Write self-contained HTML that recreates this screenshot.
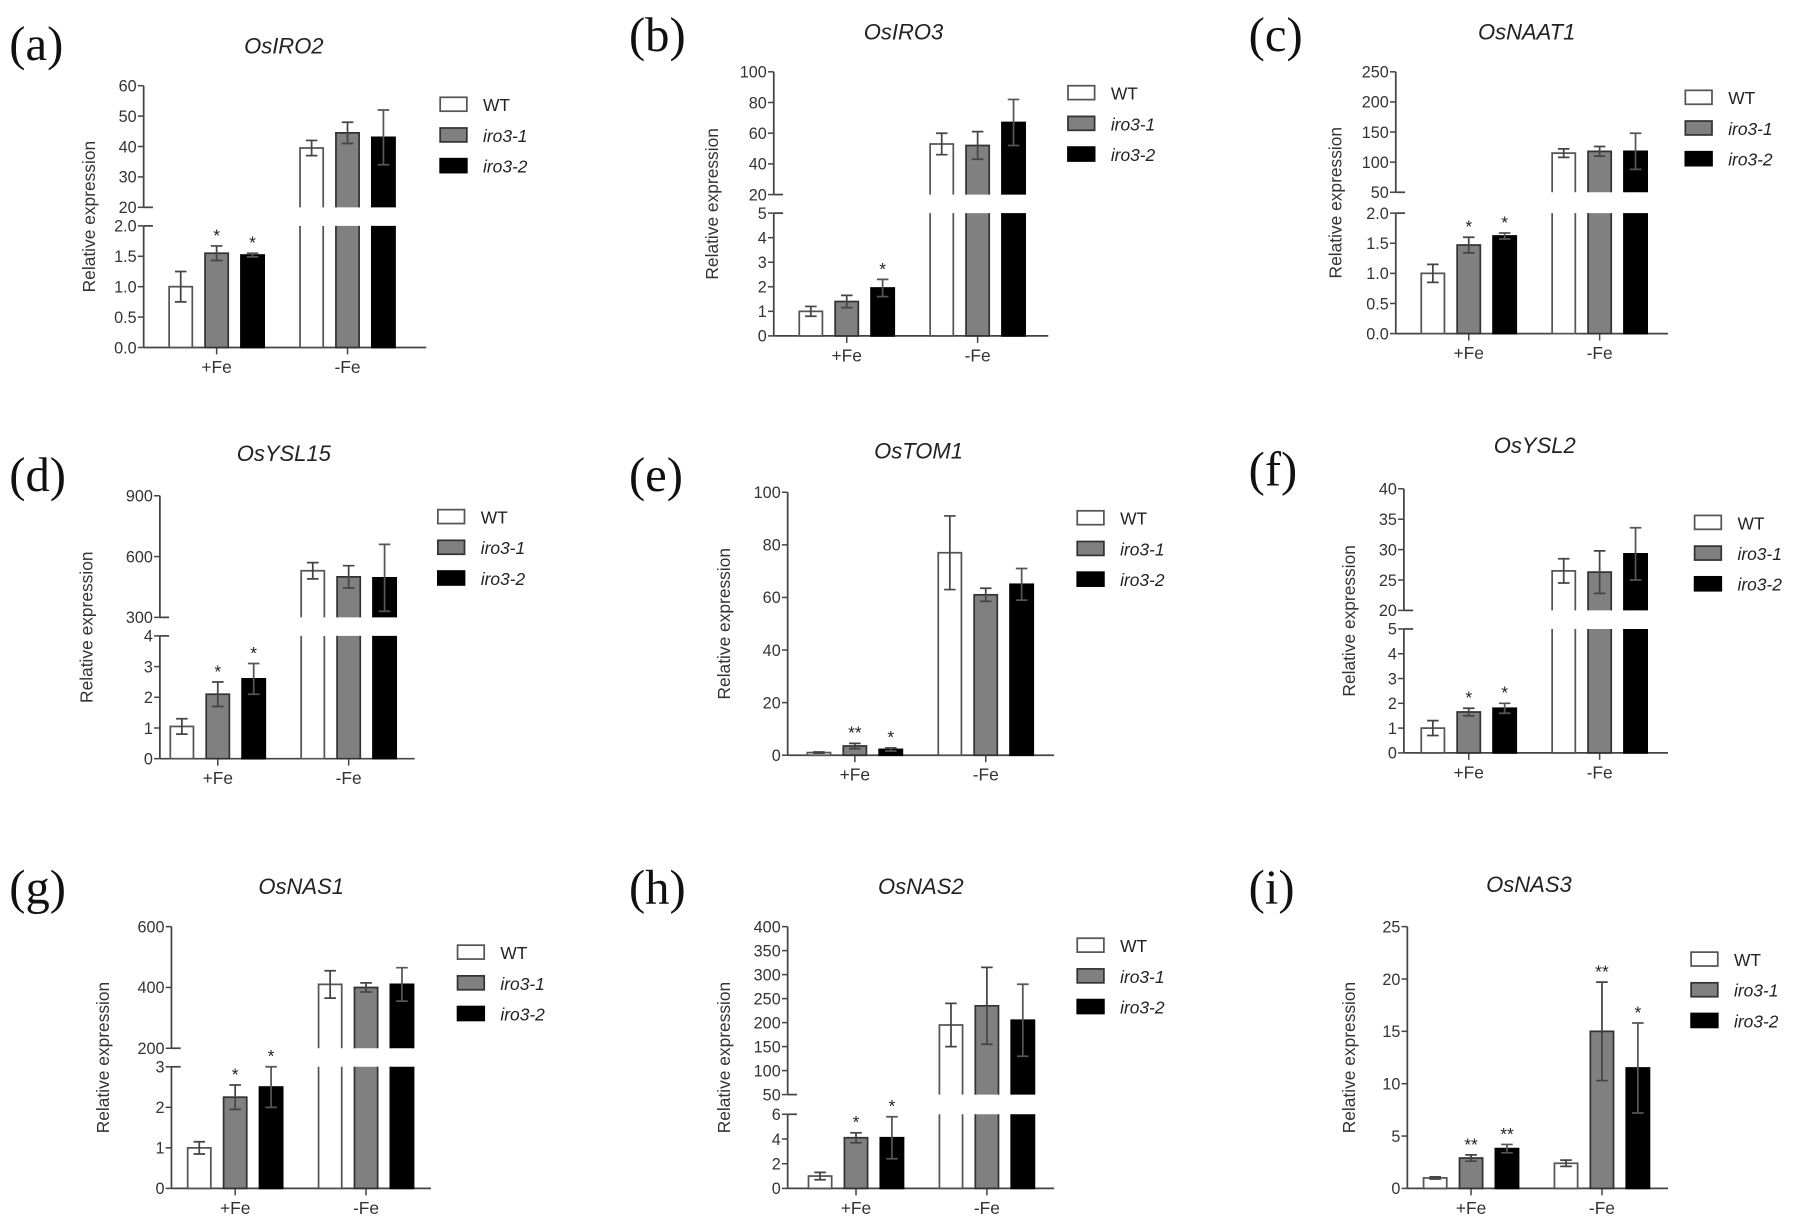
<!DOCTYPE html>
<html><head><meta charset="utf-8">
<style>
html,body{margin:0;padding:0;background:#fff;}
svg{display:block;}
text{font-family:"Liberation Sans",sans-serif;}
</style></head>
<body>
<svg id="fig" width="1807" height="1222" viewBox="0 0 1560 1055" xmlns="http://www.w3.org/2000/svg"></svg>
<script>
const categories = ['+Fe', '-Fe'];
const seriesNames = ['WT', 'iro3-1', 'iro3-2'];
const panelTitles = ['OsIRO2','OsIRO3','OsNAAT1','OsYSL15','OsTOM1','OsYSL2','OsNAS1','OsNAS2','OsNAS3'];
const panelLetters = ['(a)','(b)','(c)','(d)','(e)','(f)','(g)','(h)','(i)'];

// means [category][series]
const meansA = [[1.0,1.55,1.52],[39.5,44.5,43]];
const errA   = [[0.25,0.12,0.03],[2.5,3.5,9]];
const starsA = [['','*','*'],['','','']];
const meansB = [[1.0,1.4,1.95],[53,52,67]];
const errB   = [[0.2,0.25,0.35],[7,9,15]];
const starsB = [['','','*'],['','','']];
const meansC = [[1.0,1.47,1.62],[115,118,118]];
const errC   = [[0.15,0.13,0.05],[7,8,30]];
const starsC = [['','*','*'],['','','']];
const meansD = [[1.05,2.1,2.6],[530,500,495]];
const errD   = [[0.25,0.4,0.5],[40,55,165]];
const starsD = [['','*','*'],['','','']];
const meansE = [[1.0,3.5,2.2],[77,61,65]];
const errE   = [[0.2,1.0,0.6],[14,2.5,6]];
const starsE = [['','**','*'],['','','']];
const meansF = [[1.0,1.65,1.8],[26.5,26.3,29.3]];
const errF   = [[0.3,0.15,0.2],[2,3.5,4.3]];
const starsF = [['','*','*'],['','','']];
const meansG = [[1.0,2.25,2.5],[410,400,410]];
const errG   = [[0.15,0.3,0.5],[45,15,55]];
const starsG = [['','*','*'],['','','']];
const meansH = [[1.0,4.1,4.1],[195,235,205]];
const errH   = [[0.3,0.4,1.7],[45,80,75]];
const starsH = [['','*','*'],['','','']];
const meansI = [[1.0,2.9,3.8],[2.4,15,11.5]];
const errI   = [[0.1,0.3,0.4],[0.3,4.7,4.3]];
const starsI = [['','**','**'],['','**','*']];

const lowTicksA = ['0.0','0.5','1.0','1.5','2.0'], upTicksA = ['20','30','40','50','60'];
const lowTicksB = ['0','1','2','3','4','5'], upTicksB = ['20','40','60','80','100'];
const lowTicksC = ['0.0','0.5','1.0','1.5','2.0'], upTicksC = ['50','100','150','200','250'];
const lowTicksD = ['0','1','2','3','4'], upTicksD = ['300','600','900'];
const lowTicksE = ['0','20','40','60','80','100'], upTicksE = [];
const lowTicksF = ['0','1','2','3','4','5'], upTicksF = ['20','25','30','35','40'];
const lowTicksG = ['0','1','2','3'], upTicksG = ['200','400','600'];
const lowTicksH = ['0','2','4','6'], upTicksH = ['50','100','150','200','250','300','350','400'];
const lowTicksI = ['0','5','10','15','20','25'], upTicksI = [];

const dataSets = [
 [meansA,errA,starsA,lowTicksA,upTicksA],[meansB,errB,starsB,lowTicksB,upTicksB],[meansC,errC,starsC,lowTicksC,upTicksC],
 [meansD,errD,starsD,lowTicksD,upTicksD],[meansE,errE,starsE,lowTicksE,upTicksE],[meansF,errF,starsF,lowTicksF,upTicksF],
 [meansG,errG,starsG,lowTicksG,upTicksG],[meansH,errH,starsH,lowTicksH,upTicksH],[meansI,errI,starsI,lowTicksI,upTicksI]
];

const layouts = [
 {lx:8,ly:52,tx:245,ty:46,ax:124,ae:368,off:63,lb:300,lt:195,ub:179,ut:74,gx:380,gy:84,yl:82},
 {lx:543,ly:44,tx:780,ty:34,ax:668,ae:905,off:63,lb:290,lt:184,ub:168,ut:62,gx:922,gy:74,yl:620},
 {lx:1078,ly:44,tx:1318,ty:34,ax:1205,ae:1440,off:63,lb:288,lt:184,ub:166,ut:62,gx:1455,gy:78,yl:1158},
 {lx:8,ly:424,tx:245,ty:398,ax:138,ae:358,off:50,lb:655,lt:549,ub:533,ut:428,gx:378,gy:440,yl:80},
 {lx:543,ly:424,tx:793,ty:396,ax:680,ae:910,off:58,lb:652,lt:425,ub:0,ut:0,gx:930,gy:441,yl:630},
 {lx:1078,ly:419,tx:1325,ty:391,ax:1212,ae:1440,off:56,lb:650,lt:543,ub:527,ut:422,gx:1463,gy:445,yl:1170},
 {lx:8,ly:780,tx:260,ty:772,ax:148,ae:372,off:55,lb:1026,lt:921,ub:905,ut:800,gx:395,gy:816,yl:94},
 {lx:543,ly:780,tx:795,ty:772,ax:680,ae:910,off:59,lb:1026,lt:962,ub:945,ut:800,gx:930,gy:810,yl:630},
 {lx:1078,ly:780,tx:1320,ty:770,ax:1215,ae:1440,off:55,lb:1026,lt:800,ub:0,ut:0,gx:1460,gy:822,yl:1170}
];

const NS = 'http://www.w3.org/2000/svg';
const svg = document.getElementById('fig');
function mk(tag, attrs, parent){
  const e = document.createElementNS(NS, tag);
  for (const k in attrs) e.setAttribute(k, attrs[k]);
  parent.appendChild(e);
  return e;
}
const fills = ['#ffffff','#808080','#000000'];
const strokes = ['#555555','#333333','#000000'];
const AX = '#444';

layouts.forEach((L, p) => {
  const [means, errs, stars, lowT, upT] = dataSets[p];
  const g = mk('g', {}, svg);
  
  

  const lab = mk('text', {x:L.lx, y:L.ly, 'font-size':42, style:'font-family:"Liberation Serif",serif', fill:'#111'}, g);
  lab.textContent = panelLetters[p];
  
  

  const tt = mk('text', {x:L.tx, y:L.ty, 'font-size':19, 'font-style':'italic', 'text-anchor':'middle', fill:'#222'}, g);
  tt.textContent = panelTitles[p];
  
  

  const lowMax = parseFloat(lowT[lowT.length-1]), lowMin = parseFloat(lowT[0]);
  const broken = upT.length > 0;
  const upMin = broken ? parseFloat(upT[0]) : 0, upMax = broken ? parseFloat(upT[upT.length-1]) : 0;
  const yLow = v => L.lb - (v - lowMin) / (lowMax - lowMin) * (L.lb - L.lt);
  const yUp = v => L.ub - (v - upMin) / (upMax - upMin) * (L.ub - L.ut);
  const yAny = v => (!broken || v <= lowMax) ? yLow(v) : yUp(Math.min(v, upMax));
  const xCat = c => L.ax + L.off + c * 113;
  const xBar = (c, s) => xCat(c) + (s - 1) * 31;

  const ya = mk('line', {x1:L.ax, x2:L.ax, y1:L.lb, y2:L.lt, stroke:AX, 'stroke-width':1.5}, g);
  
  
  if (broken) {
    const yb = mk('line', {x1:L.ax, x2:L.ax, y1:L.ub, y2:L.ut, stroke:AX, 'stroke-width':1.5}, g);
    
    
    mk('line', {x1:L.ax, x2:L.ax+8, y1:L.ub, y2:L.ub, stroke:AX, 'stroke-width':1.5}, g);
    mk('line', {x1:L.ax, x2:L.ax+8, y1:L.lt, y2:L.lt, stroke:AX, 'stroke-width':1.5}, g);
  }
  const xa = mk('line', {x1:L.ax, x2:L.ae, y1:L.lb, y2:L.lb, stroke:AX, 'stroke-width':1.5}, g);
  
  

  const tick = (y, label) => {
    mk('line', {x1:L.ax-5, x2:L.ax, y1:y, y2:y, stroke:AX, 'stroke-width':1.3}, g);
    const t = mk('text', {x:L.ax-6, y:y+5, 'font-size':14, 'text-anchor':'end', fill:'#333'}, g);
    t.textContent = label;
    
    
  };
  lowT.forEach(l => tick(yLow(parseFloat(l)), l));
  upT.forEach(l => tick(yUp(parseFloat(l)), l));

  const ylab = mk('text', {x:0, y:0, 'font-size':15, 'text-anchor':'middle', fill:'#333',
    transform:'translate(' + L.yl + ',' + ((L.lb + (broken ? L.ut : L.lt)) / 2) + ') rotate(-90)'}, g);
  ylab.textContent = 'Relative expression';
  
  

  categories.forEach((cat, c) => {
    mk('line', {x1:xCat(c), x2:xCat(c), y1:L.lb, y2:L.lb+6, stroke:AX, 'stroke-width':1.3}, g);
    const t = mk('text', {x:xCat(c), y:L.lb+22, 'font-size':15, 'text-anchor':'middle', fill:'#333'}, g);
    t.textContent = cat;
    
    

    seriesNames.forEach((sn, s) => {
      const v = means[c][s], e = errs[c][s];
      const bx = xBar(c, s) - 10, w = 20;
      const base = {fill:fills[s], stroke:strokes[s], 'stroke-width':1.5};
      const id = 'bar-' + sn + '-' + (c ? 'minusFe' : 'plusFe');
      if (broken && v > lowMax) {
        // lower part: open at top
        const r1 = mk('path', Object.assign({d:'M'+bx+' '+L.lt+'V'+L.lb+'H'+(bx+w)+'V'+L.lt}, base), g);
        
        
        const top = yUp(v);
        // upper part: open at bottom
        const r2 = mk('path', Object.assign({d:'M'+bx+' '+L.ub+'V'+top+'H'+(bx+w)+'V'+L.ub}, base), g);
        
        
      } else {
        const top = yLow(v);
        const r = mk('rect', Object.assign({x:bx, y:top, width:w, height:L.lb-top}, base), g);
        
        
      }
      const cx = xBar(c, s);
      const yh = yAny(v + e), yl2 = yAny(v - e);
      const ec = s === 2 ? '#555' : '#444';
      const eb = mk('path', {d:'M' + cx + ' ' + yh + 'V' + yl2 + 'M' + (cx-5) + ' ' + yh + 'H' + (cx+5) + 'M' + (cx-5) + ' ' + yl2 + 'H' + (cx+5),
        stroke:ec, 'stroke-width':1.5, fill:'none'}, g);
      
      
      if (stars[c][s]) {
        const st = mk('text', {x:cx, y:yh-4, 'font-size':15, 'text-anchor':'middle', fill:'#222'}, g);
        st.textContent = stars[c][s];
        
        
      }
    });
  });

  seriesNames.forEach((sn, s) => {
    const y = L.gy + s * 26.5;
    const b = mk('rect', {x:L.gx, y:y, width:23, height:12, fill:fills[s], stroke:strokes[s], 'stroke-width':1.5}, g);
    
    
    const t = mk('text', {x:L.gx+37, y:y+12, 'font-size':15, fill:'#222'}, g);
    if (s > 0) t.setAttribute('font-style', 'italic');
    t.textContent = sn;
    
    
  });
});
</script>
</body></html>
